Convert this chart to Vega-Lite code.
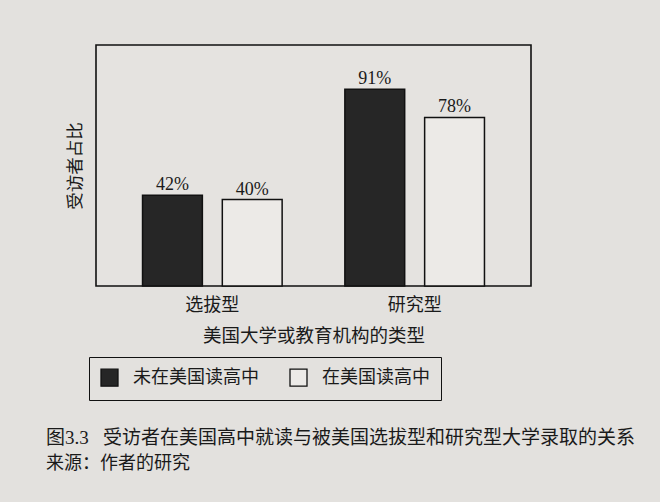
{
  "$schema": "https://vega.github.io/schema/vega-lite/v6.json",
  "width": 435,
  "height": 241,
  "autosize": {"type": "none"},
  "padding": {"left": 96, "top": 45, "right": 129, "bottom": 216},
  "background": "#e3e1de",
  "config": {
    "font": "Liberation Serif, Noto Sans CJK SC",
    "view": {"stroke": "#111111", "strokeWidth": 1.6, "fill": "#e5e3e0"},
    "axis": {"grid": false, "domain": false, "ticks": false}
  },
  "title": {
    "text": "图3.3\u00a0\u00a0\u00a0受访者在美国高中就读与被美国选拔型和研究型大学录取的关系",
    "subtitle": "来源：作者的研究",
    "orient": "bottom",
    "anchor": "start",
    "dx": -20,
    "offset": 28,
    "fontSize": 19,
    "fontWeight": "normal",
    "subtitleFontSize": 18,
    "color": "#1a1a1a",
    "subtitleColor": "#1a1a1a",
    "subtitlePadding": 7,
    "font": "Liberation Serif, Noto Sans CJK SC",
    "subtitleFont": "Liberation Serif, Noto Sans CJK SC"
  },
  "data": {
    "values": [
      {"type": "选拔型", "group": "未在美国读高中", "value": 0.42},
      {"type": "选拔型", "group": "在美国读高中", "value": 0.40},
      {"type": "研究型", "group": "未在美国读高中", "value": 0.91},
      {"type": "研究型", "group": "在美国读高中", "value": 0.78}
    ]
  },
  "encoding": {
    "x": {
      "field": "type",
      "type": "nominal",
      "sort": ["选拔型", "研究型"],
      "scale": {"paddingInner": 0.31, "paddingOuter": 0.23},
      "axis": {
        "title": "美国大学或教育机构的类型",
        "labelAngle": 0,
        "labelFontSize": 18,
        "labelColor": "#1a1a1a",
        "labelPadding": 10,
        "titleFontSize": 18.5,
        "titleFontWeight": "normal",
        "titleColor": "#1a1a1a",
        "titlePadding": 12
      }
    },
    "xOffset": {
      "field": "group",
      "type": "nominal",
      "sort": ["未在美国读高中", "在美国读高中"],
      "scale": {"paddingInner": 0.25, "paddingOuter": 0}
    },
    "y": {
      "field": "value",
      "type": "quantitative",
      "scale": {"domain": [0, 1.115], "nice": false},
      "axis": {
        "title": "受访者占比",
        "labels": false,
        "titleFontSize": 17.5,
        "titleFontWeight": "normal",
        "titleColor": "#1a1a1a",
        "titlePadding": 12
      }
    }
  },
  "layer": [
    {
      "mark": {"type": "bar", "stroke": "#111111", "strokeWidth": 1.5},
      "encoding": {
        "color": {
          "field": "group",
          "type": "nominal",
          "sort": ["未在美国读高中", "在美国读高中"],
          "scale": {"domain": ["未在美国读高中", "在美国读高中"], "range": ["#262626", "#eceae7"]},
          "legend": {
            "title": null,
            "orient": "none",
            "legendX": -7,
            "legendY": 312,
            "direction": "horizontal",
            "strokeColor": "#111111",
            "padding": 11,
            "symbolType": "square",
            "symbolSize": 289,
            "symbolStrokeColor": "#111111",
            "symbolStrokeWidth": 1.3,
            "symbolOpacity": 1,
            "labelFontSize": 18,
            "labelColor": "#1a1a1a",
            "labelOffset": 14,
            "columnPadding": 28
          }
        }
      }
    },
    {
      "mark": {"type": "text", "baseline": "alphabetic", "dy": -5, "fontSize": 18, "color": "#1a1a1a"},
      "encoding": {
        "text": {"field": "value", "type": "quantitative", "format": ".0%"},
        "detail": {"field": "group"}
      }
    }
  ]
}
